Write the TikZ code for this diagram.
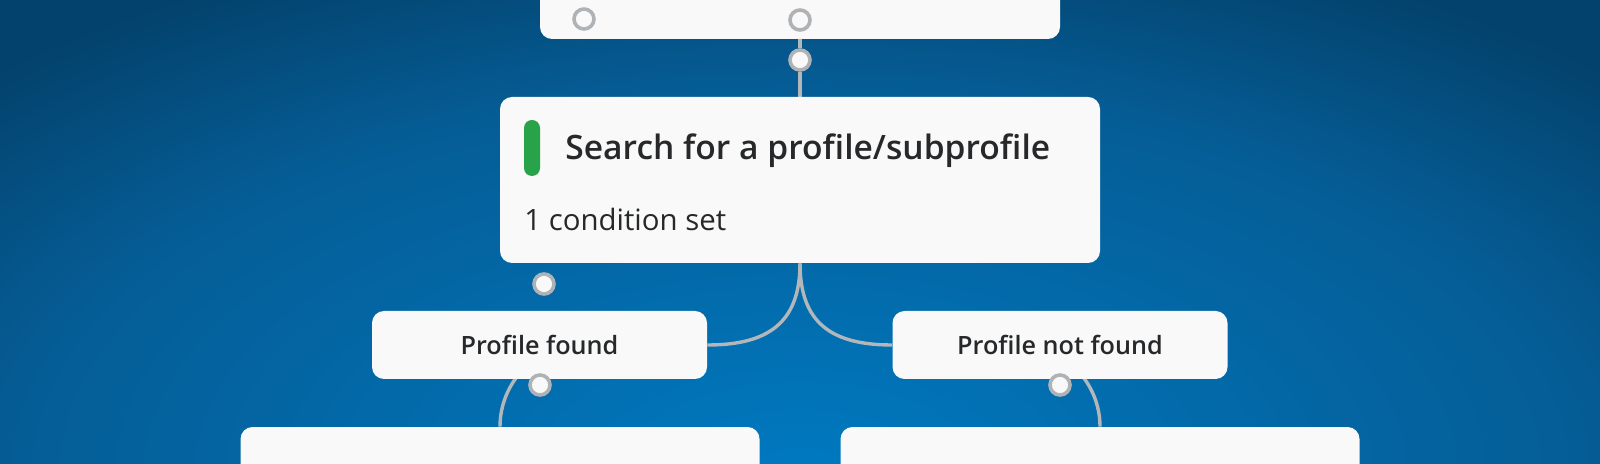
\documentclass[tikz,border=0pt]{standalone}
\usepackage{fontspec}
\setmainfont{Open Sans}[BoldFont={Open Sans Semibold}]
\definecolor{bginner}{RGB}{0,121,192}
\definecolor{bgmid}{RGB}{5,93,150}
\definecolor{bgouter}{RGB}{3,66,108}
\definecolor{boxfill}{RGB}{249,249,249}
\definecolor{txt}{RGB}{38,40,42}
\definecolor{connc}{RGB}{180,183,186}
\definecolor{portc}{RGB}{176,179,182}
\definecolor{greenbar}{RGB}{40,163,74}
\pgfdeclareradialshading{bgshade}{\pgfpointorigin}{color(0bp)=(bginner); color(17bp)=(bgmid); color(25bp)=(bgouter); color(50bp)=(bgouter)}
\pgfdeclarelayer{bgl}
\pgfdeclarelayer{lnk}
\pgfsetlayers{bgl,lnk,main}
\tikzset{
 card/.style={fill=boxfill, rounded corners=6pt, inner sep=0pt, text=txt},
 branch/.style={card, font=\bfseries\fontsize{12.6}{15}\selectfont, minimum width=167.5pt, minimum height=34pt},
 port/.style={circle, draw=portc, line width=1.8pt, fill=boxfill, minimum size=10pt, inner sep=0pt},
 link/.style={draw=connc, line width=1.7pt},
}
\begin{document}
\begin{tikzpicture}[x=0.5pt,y=-0.5pt]
\useasboundingbox (0,0) rectangle (1600,464);
% boxes
\node[card, minimum width=260pt, minimum height=29.5pt] (top) at (800,9.5) {};
\node[card, minimum width=300pt, minimum height=83pt] (mid) at (800,180) {};
\node[branch] (pf) at (539.5,345) {Profile found};
\node[branch] (pnf) at (1060,345) {Profile not found};
\node[card, minimum width=259.5pt, minimum height=40pt] (bl) at (500,467) {};
\node[card, minimum width=259.5pt, minimum height=40pt] (br) at (1100,467) {};
% contents of main card
\node[fill=greenbar, rounded corners=4pt, minimum width=8pt, minimum height=28pt, inner sep=0pt] (bar) at (532,148) {};
\node[anchor=base west, inner sep=0pt, text=txt, font=\bfseries\fontsize{16.8}{20}\selectfont] (title) at (565,160) {Search for a profile/subprofile};
\node[anchor=base west, inner sep=0pt, text=txt, font=\fontsize{14.7}{17}\selectfont] (cond) at (524,231) {1 condition set};
% ports
\node[port] (c1) at (584,19) {};
\node[port] (c2) at (800,20) {};
\node[port] (c3) at (800,60) {};
\node[port] (c4) at (544,284) {};
\node[port] (c5) at (540,385) {};
\node[port] (c6) at (1060,385) {};
\coordinate (pfsrc) at ([xshift=20pt]pf.center);
\coordinate (pnfsrc) at ([xshift=-20pt]pnf.center);
\begin{pgfonlayer}{bgl}
\fill[bgouter] (0,0) rectangle (1600,464);
\shade[shading=bgshade] (800,470) ellipse [x radius=1150, y radius=560];
\end{pgfonlayer}
\begin{pgfonlayer}{lnk}
\draw[link] (c2) -- (c3);
\draw[link] (c3) -- (mid.north);
\draw[link] (mid.south) .. controls +(0,60) and +(60,0) .. (pf.east);
\draw[link] (mid.south) .. controls +(0,60) and +(-60,0) .. (pnf.west);
\draw[link] (pfsrc) .. controls +(-44,0) and +(0,-44) .. (bl.north);
\draw[link] (pnfsrc) .. controls +(44,0) and +(0,-44) .. (br.north);
\end{pgfonlayer}
\end{tikzpicture}
\end{document}
